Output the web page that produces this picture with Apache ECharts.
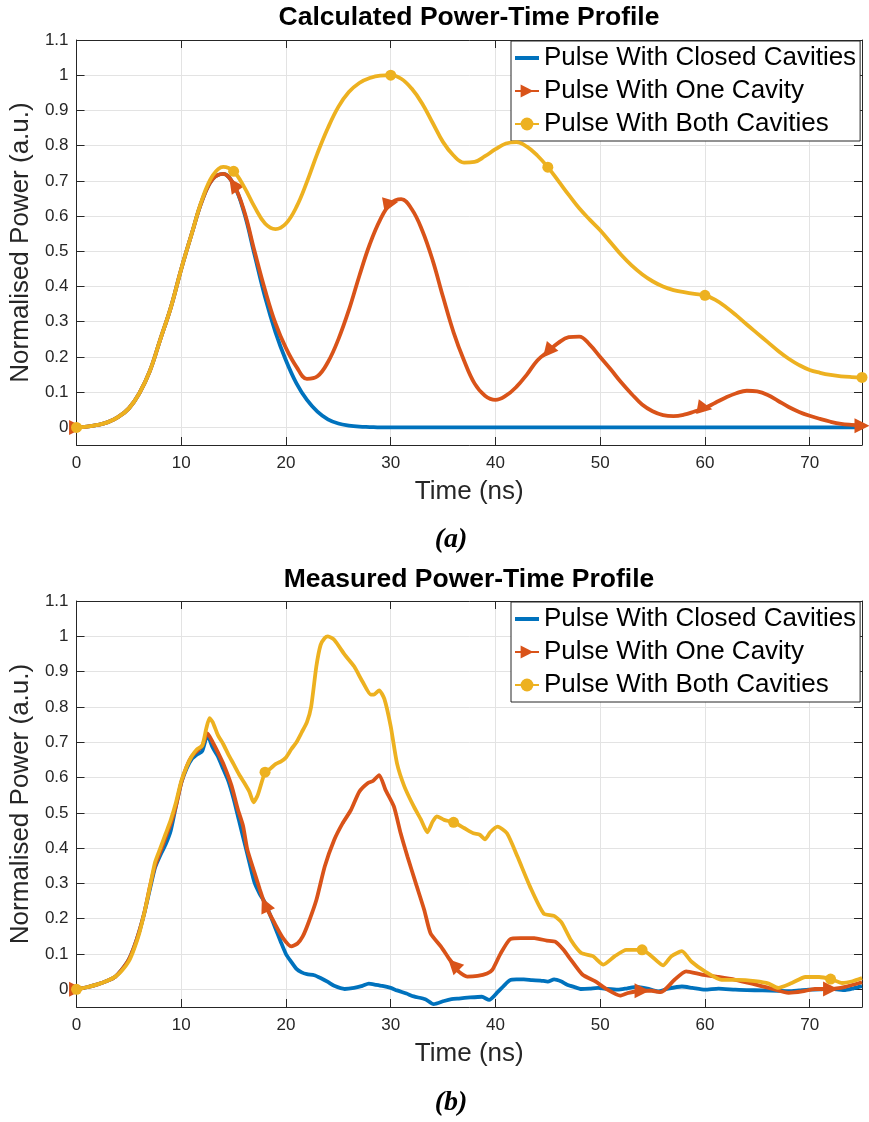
<!DOCTYPE html>
<html><head><meta charset="utf-8">
<script src="https://cdn.jsdelivr.net/npm/echarts@6/dist/echarts.min.js"></script>
<style>html,body{margin:0;padding:0;background:#fff}#c{width:869px;height:1122px}</style>
</head><body><div id="c"></div>
<script>
const seriesNames = ['Pulse With Closed Cavities', 'Pulse With One Cavity', 'Pulse With Both Cavities'];
const colors = ['#0072BD', '#D95319', '#EDB120'];

// (a) Calculated — sampled every 1 ns
const timeA = [0,1,2,3,4,5,6,7,8,9,10,11,12,13,14,15,16,17,18,19,20,21,22,23,24,25,26,27,28,29,30,31,32,33,34,35,36,37,38,39,40,41,42,43,44,45,46,47,48,49,50,51,52,53,54,55,56,57,58,59,60,61,62,63,64,65,66,67,68,69,70,71,72,73,74,75];
const closedA = [0,0.002,0.007,0.015,0.03,0.054,0.097,0.16,0.25,0.34,0.45,0.55,0.645,0.705,0.72,0.69,0.61,0.49,0.37,0.27,0.19,0.125,0.078,0.045,0.023,0.011,0.005,0.002,0.001,0,0,0,0,0,0,0,0,0,0,0,0,0,0,0,0,0,0,0,0,0,0,0,0,0,0,0,0,0,0,0,0,0,0,0,0,0,0,0,0,0,0,0,0,0,0,0];
const oneA = [0,0.002,0.007,0.015,0.03,0.054,0.097,0.16,0.25,0.34,0.45,0.55,0.645,0.705,0.72,0.69,0.615,0.5,0.39,0.295,0.225,0.172,0.138,0.145,0.185,0.25,0.333,0.43,0.52,0.59,0.636,0.648,0.62,0.56,0.475,0.37,0.27,0.19,0.125,0.09,0.078,0.09,0.115,0.15,0.19,0.215,0.24,0.256,0.258,0.235,0.2,0.165,0.128,0.095,0.065,0.046,0.035,0.032,0.036,0.045,0.055,0.07,0.085,0.097,0.104,0.102,0.092,0.075,0.058,0.044,0.033,0.024,0.016,0.01,0.007,0.005];
const bothA = [0,0.002,0.007,0.015,0.03,0.054,0.097,0.16,0.25,0.34,0.45,0.55,0.648,0.715,0.74,0.727,0.683,0.626,0.579,0.563,0.579,0.626,0.697,0.778,0.85,0.91,0.952,0.978,0.992,0.999,1.0,0.99,0.962,0.92,0.865,0.81,0.772,0.752,0.754,0.77,0.79,0.806,0.81,0.797,0.772,0.739,0.70,0.66,0.622,0.59,0.56,0.525,0.49,0.46,0.435,0.415,0.4,0.39,0.384,0.379,0.375,0.362,0.342,0.318,0.292,0.267,0.242,0.217,0.195,0.177,0.163,0.155,0.149,0.145,0.143,0.142];
const markerTimesA = [0,15,30,45,60,75];
const arrowRotA = [-90,35,-80,140,-100,-90];

// (b) Measured
const tClosedB = [0,1,2,3,3.7,4.3,5,5.5,6,6.5,7,7.5,8,8.5,9,9.5,10,10.5,11,11.5,12,12.5,13,13.5,14,14.5,15,15.5,16,16.5,17,17.5,18,18.5,19,19.5,20,20.5,21,21.5,22,22.7,23.3,24,24.6,25.6,26.5,27.3,27.9,28.6,29.2,30,30.6,31.5,32.2,33.3,34.1,35.1,35.8,36.5,37.6,38.7,39.4,40.2,40.8,41.4,42,42.7,43.5,44.3,45,45.6,46.3,46.8,47.5,48.2,49,49.8,50.7,51.7,52.6,53.5,54.5,55.5,56.5,57.8,58.8,60,61.3,62.9,64,65.5,67,68,69,69.9,71,71.8,72.6,73.4,74.2,75];
const vClosedB = [0,0.006,0.014,0.025,0.036,0.055,0.085,0.12,0.165,0.22,0.283,0.345,0.38,0.41,0.45,0.52,0.585,0.625,0.652,0.665,0.675,0.72,0.685,0.66,0.625,0.59,0.54,0.48,0.42,0.36,0.302,0.27,0.245,0.21,0.172,0.135,0.1,0.078,0.058,0.048,0.043,0.04,0.032,0.021,0.01,0.001,0.004,0.01,0.016,0.013,0.01,0.004,-0.003,-0.012,-0.02,-0.028,-0.042,-0.033,-0.028,-0.026,-0.023,-0.021,-0.03,-0.008,0.01,0.026,0.028,0.028,0.026,0.025,0.022,0.028,0.022,0.014,0.007,0.001,0.002,0.004,0.001,-0.001,0.003,0.007,0.002,-0.006,0.002,0.008,0.004,-0.001,0.002,-0.001,-0.002,-0.003,-0.004,-0.005,-0.003,-0.001,0,0.002,0,-0.002,0.003,0.009];
const tOneB = [0,1,2,3,3.7,4.3,5,5.5,6,6.5,7,7.5,8,8.5,9,9.5,10,10.5,11,11.5,12,12.5,13,13.5,14.1,14.8,15.4,15.9,16.3,17,17.5,18,18.9,19.7,20.5,21.1,21.6,22.1,22.9,23.7,24.6,25.4,26.2,27,27.8,28.3,28.9,29.5,30.3,30.95,31.6,32.4,33.2,33.8,34.8,35.5,36,36.5,37.3,38.3,39.2,39.7,40.5,41.4,42.4,43.7,44.9,45.7,46.5,47.1,48.3,49.5,50.7,51.9,52.7,54,54.9,55.8,57.1,58.2,59.7,61.3,62.9,64.5,66.1,68,69.3,70.5,72,73.4,75];
const vOneB = [0,0.006,0.014,0.025,0.036,0.055,0.085,0.12,0.165,0.22,0.29,0.35,0.39,0.43,0.47,0.52,0.585,0.63,0.66,0.675,0.69,0.725,0.7,0.671,0.633,0.577,0.51,0.463,0.397,0.33,0.283,0.24,0.188,0.146,0.122,0.13,0.15,0.185,0.253,0.348,0.423,0.47,0.508,0.56,0.584,0.59,0.607,0.565,0.518,0.442,0.376,0.3,0.225,0.159,0.121,0.09,0.07,0.05,0.036,0.038,0.045,0.055,0.102,0.142,0.145,0.145,0.138,0.135,0.112,0.088,0.042,0.023,-0.001,-0.018,-0.01,-0.004,-0.004,-0.008,0.027,0.051,0.042,0.035,0.027,0.016,0.004,-0.01,-0.006,0.001,0.001,0.007,0.02];
const tBothB = [0,1,2,3,3.7,4.3,5,5.5,6,6.5,7,7.5,8,8.5,9,9.5,10,10.5,11,11.5,12,12.4,12.7,13,13.5,14,14.5,15,15.5,16,16.5,16.9,17.3,18,18.5,19,19.5,20,20.5,21,21.5,22,22.4,22.9,23.3,23.7,24,24.6,25.6,26.5,27.3,28.1,28.4,28.9,29.4,30,30.6,31.3,32.2,32.9,33.5,34,34.4,35.1,36,37,37.9,38.5,39,39.5,40.2,41.1,42.1,43.3,44.6,45.6,46.3,47.2,48.2,49.3,50.3,51.4,52.5,54,54.9,56,56.8,57.8,58.7,60,61.6,63.2,64.8,66.1,67,68.3,69.6,70.9,72,73.1,74.1,75];
const vBothB = [0,0.006,0.014,0.025,0.036,0.052,0.08,0.115,0.16,0.22,0.29,0.36,0.4,0.44,0.48,0.53,0.59,0.63,0.66,0.68,0.69,0.74,0.768,0.757,0.72,0.695,0.665,0.638,0.61,0.586,0.56,0.53,0.55,0.615,0.625,0.638,0.645,0.657,0.68,0.7,0.728,0.757,0.8,0.915,0.975,0.995,1.0,0.99,0.948,0.915,0.872,0.835,0.835,0.847,0.822,0.745,0.64,0.575,0.518,0.48,0.445,0.475,0.49,0.48,0.473,0.457,0.442,0.438,0.425,0.445,0.461,0.442,0.376,0.291,0.215,0.208,0.19,0.14,0.103,0.094,0.07,0.094,0.112,0.112,0.094,0.068,0.094,0.108,0.079,0.051,0.027,0.027,0.023,0.016,0.004,0.018,0.035,0.035,0.029,0.018,0.023,0.032];
const markerTimesB = [0,18,36,54,72];
const arrowRotB = [-90,25,45,-90,-90];

const xTicksInterval = 10;
const FONT = 'Liberation Sans, Arial, Helvetica, sans-serif';
const AX = '#262626';

function buildData(ts, vs, marks, rots) {
  return ts.map((t, i) => {
    const k = marks ? marks.indexOf(t) : -1;
    const item = { value: [t, vs[i]] };
    if (k < 0) item.symbol = 'none';
    else if (rots) item.symbolRotate = rots[k];
    return item;
  });
}

function mkX(grid, top) {
  return {
    type: 'value', gridIndex: grid, min: 0, max: 75, interval: xTicksInterval,
    position: top ? 'top' : 'bottom',
    axisLine: { show: true, onZero: false, lineStyle: { color: AX, width: 1 } },
    axisTick: { show: true, inside: true, length: 8, lineStyle: { color: AX } },
    axisLabel: { show: !top, fontSize: 17, color: AX, margin: 10, fontFamily: FONT, showMaxLabel: false },
    splitLine: { show: !top, lineStyle: { color: '#e3e3e3', width: 1 } },
    name: top ? '' : 'Time (ns)', nameLocation: 'middle', nameGap: 34,
    nameTextStyle: { fontSize: 26, color: AX, fontFamily: FONT }
  };
}
function mkY(grid, right) {
  return {
    type: 'value', gridIndex: grid, min: -0.05, max: 1.1, minInterval: 0.1, maxInterval: 0.1, splitNumber: 11,
    position: right ? 'right' : 'left',
    axisLine: { show: true, onZero: false, lineStyle: { color: AX, width: 1 } },
    axisTick: { show: true, inside: true, length: 8, lineStyle: { color: AX } },
    axisLabel: { show: !right, fontSize: 17, color: AX, margin: 8, fontFamily: FONT, showMinLabel: false },
    splitLine: { show: !right, lineStyle: { color: '#e3e3e3', width: 1 } },
    name: right ? '' : 'Normalised Power (a.u.)', nameLocation: 'middle', nameGap: 41,
    nameTextStyle: { fontSize: 26, color: AX, fontFamily: FONT }
  };
}
function mkSeries(idx, gridAxis, ts, vs, marks, rots) {
  const s = {
    name: seriesNames[idx], type: 'line', xAxisIndex: gridAxis, yAxisIndex: gridAxis,
    data: buildData(ts, vs, idx === 0 ? null : marks, idx === 1 ? rots : null),
    smooth: gridAxis === 0 ? 0.4 : 0.2,
    showAllSymbol: true,
    lineStyle: { color: colors[idx], width: 3.8 },
    itemStyle: { color: colors[idx] },
    emphasis: { disabled: true },
    z: 2 + idx
  };
  if (idx === 0) { s.symbol = 'none'; s.data = ts.map((t, i) => [t, vs[i]]); }
  if (idx === 1) { s.symbol = 'triangle'; s.symbolSize = 15; s.symbolRotate = -90; }
  if (idx === 2) { s.symbol = 'circle'; s.symbolSize = 11; }
  return s;
}
function mkLegend(top) {
  return {
    data: [
      { name: seriesNames[0], icon: 'path://M0,0L24,0L24,4L0,4Z' },
      { name: seriesNames[1] },
      { name: seriesNames[2] }
    ],
    orient: 'vertical', left: 511, top: top,
    backgroundColor: '#fff', borderColor: AX, borderWidth: 1, borderRadius: 0,
    padding: [4, 4, 4, 3], itemGap: 7, itemWidth: 24, itemHeight: 16,
    textStyle: { fontSize: 26, color: '#000', fontFamily: FONT },
    selectedMode: false
  };
}

const chart = echarts.init(document.getElementById('c'), null, { renderer: 'canvas' });
chart.setOption({
  animation: false,
  backgroundColor: '#fff',
  grid: [
    { left: 75, top: 40, width: 787, height: 405 },
    { left: 75, top: 601, width: 787, height: 406 }
  ],
  xAxis: [mkX(0, false), mkX(1, false), mkX(0, true), mkX(1, true)],
  yAxis: [mkY(0, false), mkY(1, false), mkY(0, true), mkY(1, true)],
  legend: [mkLegend(41), mkLegend(602)],
  series: [
    mkSeries(0, 0, timeA, closedA, markerTimesA, arrowRotA),
    mkSeries(1, 0, timeA, oneA, markerTimesA, arrowRotA),
    mkSeries(2, 0, timeA, bothA, markerTimesA, arrowRotA),
    mkSeries(0, 1, tClosedB, vClosedB, markerTimesB, arrowRotB),
    mkSeries(1, 1, tOneB, vOneB, markerTimesB, arrowRotB),
    mkSeries(2, 1, tBothB, vBothB, markerTimesB, arrowRotB)
  ],
  graphic: [
    { type: 'text', x: 469, y: 18, style: { text: 'Calculated Power-Time Profile', align: 'center', verticalAlign: 'middle', font: 'bold 26.5px ' + FONT, fill: '#000' } },
    { type: 'text', x: 469, y: 580, style: { text: 'Measured Power-Time Profile', align: 'center', verticalAlign: 'middle', font: 'bold 26.5px ' + FONT, fill: '#000' } },
    { type: 'text', x: 451, y: 540, style: { text: '(a)', align: 'center', verticalAlign: 'middle', font: 'italic bold 28px "Liberation Serif", "DejaVu Serif", serif', fill: '#000' } },
    { type: 'text', x: 451, y: 1103, style: { text: '(b)', align: 'center', verticalAlign: 'middle', font: 'italic bold 28px "Liberation Serif", "DejaVu Serif", serif', fill: '#000' } }
  ]
});
</script></body></html>
